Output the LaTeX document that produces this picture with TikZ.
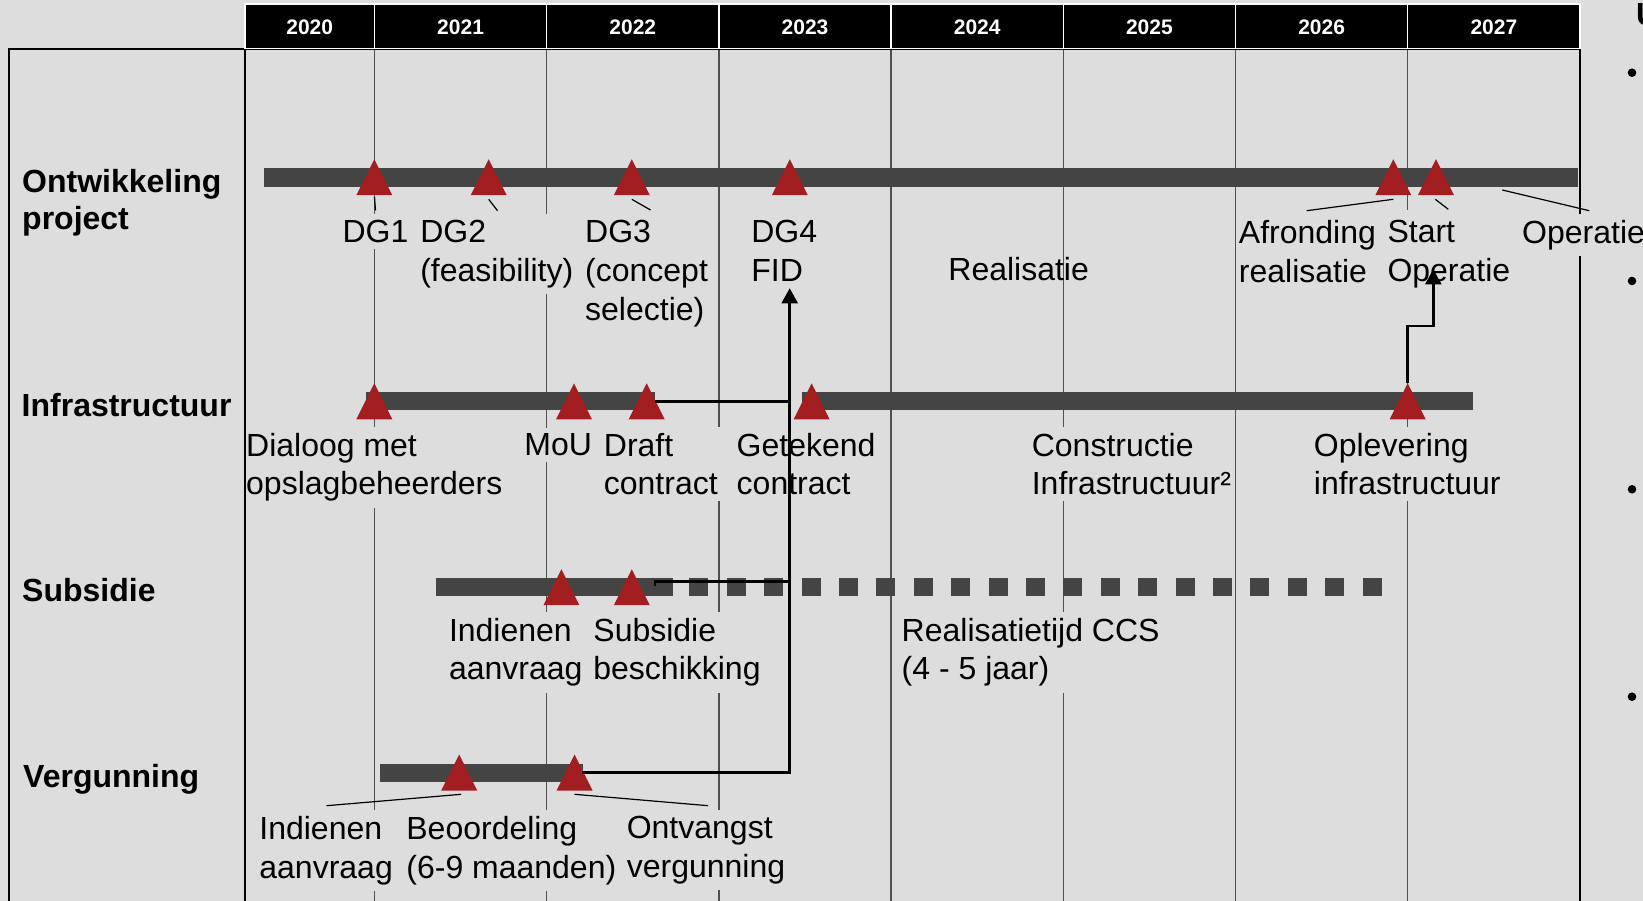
\documentclass[tikz,border=0pt]{standalone}
\usepackage{fontspec}
\setmainfont{Liberation Sans}
\usetikzlibrary{arrows.meta}
\definecolor{bgc}{RGB}{221,221,221}
\definecolor{barc}{RGB}{68,68,68}
\definecolor{msred}{RGB}{162,30,32}
\definecolor{gridc}{RGB}{80,80,80}
\newcommand\lblfont{\fontsize{32}{38.8}\selectfont}
\newcommand\rowfont{\fontsize{32}{37.6}\selectfont\bfseries}
\newcommand\yrfont{\fontsize{21}{24}\selectfont\bfseries}
\begin{document}
\begin{tikzpicture}[x=1pt,y=-1pt,
  lbl/.style={font=\lblfont, align=left, anchor=north west, inner xsep=2pt, inner ysep=6pt, fill=bgc},
  nofill/.style={font=\lblfont, align=left, anchor=north west, inner xsep=2pt, inner ysep=6pt},
  rowlbl/.style={font=\rowfont, align=left, anchor=north west, inner sep=0pt},
  yr/.style={font=\yrfont, text=white, inner sep=0pt},
  hdr/.style={fill=black, draw=white, line width=1.5pt},
  gridln/.style={draw=gridc, line width=1.3pt},
  frameln/.style={draw=black, line width=2pt},
  barln/.style={draw=barc, line width=18.5pt},
  conn/.style={draw=black, line width=2.5pt},
  ptr/.style={draw=black, line width=1.2pt},
  arr/.style={-{Triangle[width=16pt,length=15pt]}},
  pics/mstone/.style={code={\fill[msred] (-18,18) -- (0,-18) -- (18,18) -- cycle; \coordinate (-apex) at (0,-18);}},
]
\fill[bgc] (0,0) rectangle (1643,901);
\useasboundingbox (0,0) rectangle (1643,901);

% grid lines
\foreach \gx in {374.5,546.7,718.9,891.1,1063.3,1235.5} {\draw[gridln] (\gx,49.3) -- (\gx,901);}
\draw[gridln] (1407.7,49.3) -- (1407.7,210);
\draw[gridln] (1407.7,326) -- (1407.7,901);

% frame
\draw[frameln] (9.2,901) -- (9.2,49.3) -- (1580,49.3) -- (1580,901);

% header
\foreach \a/\b/\yy in {245/374.5/2020, 374.5/546.7/2021, 546.7/718.9/2022, 718.9/891.1/2023, 891.1/1063.3/2024, 1063.3/1235.5/2025, 1235.5/1407.7/2026, 1407.7/1580/2027} {
  \draw[hdr] (\a,4) rectangle (\b,48.3);
  \node[yr] (y\yy) at ({(\a+\b)/2},27.5) {\yy};
}

% labels row 1
\node[lbl] (ldg1) at (340.4,214) {DG1};
\node[lbl] (ldg2) at (418.1,214) {DG2\\(feasibility)};
\node[lbl] (ldg3) at (583,214) {DG3\\(concept\\selectie)};
\node[lbl] (ldg4) at (749.1,214) {DG4\\FID};
\node[nofill] (lreal) at (946.2,251.5) {Realisatie};
\node[lbl] (lafr) at (1236.7,214) {Afronding\\realisatie};
\node[lbl] (lstart) at (1385.3,214) {Start\\Operatie};
\node[lbl] (loper) at (1520,214) {Operatie};
% labels row 2
\node[lbl] (ldial) at (244,426.7) {Dialoog met\\opslagbeheerders};
\node[lbl] (lmou) at (522.2,427.5) {MoU};
\node[lbl] (ldraft) at (601.7,426.7) {Draft\\contract};
\node[lbl] (lget) at (734.5,426.7) {Getekend\\contract};
\node[lbl] (lcons) at (1029.6,426.7) {Constructie\\Infrastructuur²};
\node[lbl] (loplev) at (1311.7,426.7) {Oplevering\\infrastructuur};
% labels row 3
\node[lbl] (lind) at (446.8,611.8) {Indienen\\aanvraag};
\node[lbl] (lsubs) at (591.2,611.8) {Subsidie\\beschikking};
\node[lbl] (lrccs) at (899.5,611.8) {Realisatietijd CCS\\(4 - 5 jaar)};
% labels row 4
\node[lbl] (lvind) at (257.2,810) {Indienen\\aanvraag};
\node[lbl] (lbeo) at (404.2,810) {Beoordeling\\(6-9 maanden)};
\node[lbl] (lontv) at (624.6,810) {Ontvangst\\vergunning};

\draw[frameln] (245,49.3) -- (245,901);

% bars
\draw[barln] (264,177.5) -- (1578,177.5);
\draw[barln] (365.5,401) -- (655,401);
\draw[barln] (802,401) -- (1473.3,401);
\draw[barln] (436.3,587) -- (673,587);
\draw[barln, dash pattern=on 19pt off 18.4pt] (689.3,587) -- (1381.5,587);
\draw[barln] (380.1,772.8) -- (583,772.8);

% milestones
\pic (dg1) at (374.3,177.2) {mstone};
\pic (dg2) at (488.7,177.2) {mstone};
\pic (dg3) at (631.8,177.2) {mstone};
\pic (dg4) at (789.8,177.2) {mstone};
\pic (afr) at (1393.3,177.2) {mstone};
\pic (start) at (1436,177.2) {mstone};
\pic (dial) at (374.3,401.3) {mstone};
\pic (mou) at (574,401.3) {mstone};
\pic (draft) at (646.7,401.3) {mstone};
\pic (getek) at (811.6,401.3) {mstone};
\pic (oplev) at (1407.7,401.3) {mstone};
\pic (sind) at (561.4,587.2) {mstone};
\pic (subs) at (631.8,587.2) {mstone};
\pic (beo) at (459.2,772.5) {mstone};
\pic (ontv) at (574.5,772.5) {mstone};

% connectors
\coordinate (draftR) at (654.5,401.5);
\coordinate (j1) at (789.7,401.5);
\coordinate (subsB) at (655,585.5);
\coordinate (j2) at (789.7,581.7);
\coordinate (ontvR) at (581.6,772.3);
\coordinate (fidin) at (789.7,288.3);
\coordinate (jo) at (1433.3,326);
\coordinate (startin) at (1433.3,269.3);
\draw[conn] (draftR) -- (j1);
\draw[conn] (subsB) |- (j2);
\draw[conn, arr] (ontvR) -| (fidin);
\draw[conn, arr] (oplev-apex) |- (jo) -- (startin);

% pointer lines
\path (374.5,197) coordinate (pa1) (375.5,210.5) coordinate (pb1)
      (488.7,199.3) coordinate (pa2) (497.5,210.7) coordinate (pb2)
      (631.8,199.3) coordinate (pa3) (650.5,210) coordinate (pb3)
      (1393.3,199.3) coordinate (pa4) (1306.7,210.7) coordinate (pb4)
      (1435.3,199.3) coordinate (pa5) (1448.3,209.3) coordinate (pb5)
      (1502.3,190) coordinate (pa6) (1589.3,210.7) coordinate (pb6)
      (461.2,794.3) coordinate (pa7) (326.5,805.7) coordinate (pb7)
      (574.5,794.3) coordinate (pa8) (708.2,805.7) coordinate (pb8);
\foreach \i in {1,...,8} {\draw[ptr] (pa\i) -- (pb\i);}

% row labels
\node[rowlbl] (rontw) at (22,169) {Ontwikkeling\\project};
\node[rowlbl] (rinfra) at (21.5,393.3) {Infrastructuur};
\node[rowlbl] (rsubs) at (22,578.3) {Subsidie};
\node[rowlbl] (rverg) at (23,764.3) {Vergunning};

% right side (cut off)
\node[anchor=north west, inner sep=0pt, font=\rowfont] (ucut) at (1636,3.3) {U};
\foreach \by in {72.7,281,489.3,696.7} {\fill[black] (1632,\by) circle (4.3);}
\end{tikzpicture}
\end{document}
